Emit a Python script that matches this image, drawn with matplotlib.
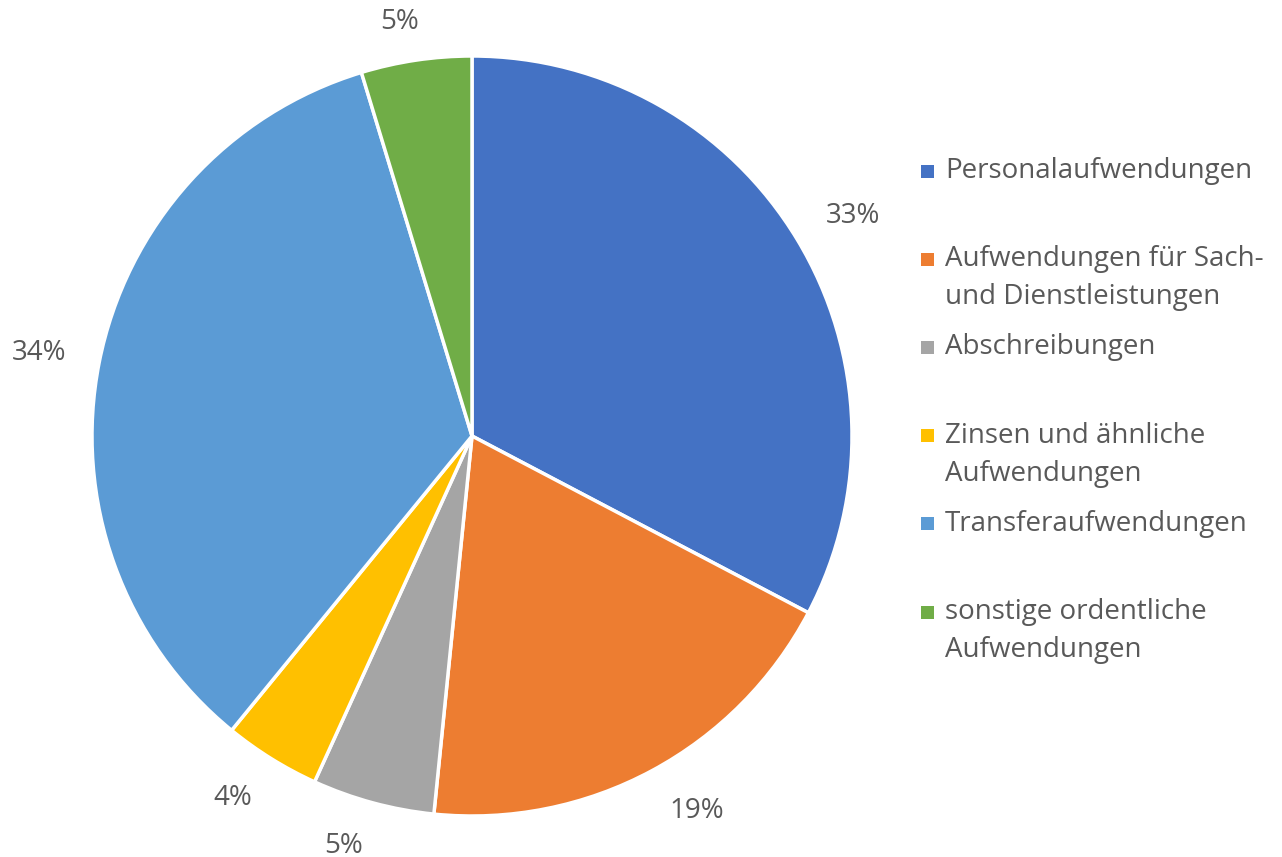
import matplotlib
matplotlib.use("Agg")
import matplotlib.pyplot as plt
import numpy as np
from matplotlib.patches import Rectangle
from matplotlib.transforms import offset_copy

categories = ["Personalaufwendungen",
              "Aufwendungen für Sach-\nund Dienstleistungen",
              "Abschreibungen",
              "Zinsen und ähnliche\nAufwendungen",
              "Transferaufwendungen",
              "sonstige ordentliche\nAufwendungen"]
values = [32.7, 18.9, 5.2, 4.1, 34.4, 4.7]
pct_labels = ["33%", "19%", "5%", "4%", "34%", "5%"]
colors = ["#4472C4", "#ED7D31", "#A5A5A5", "#FFC000", "#5B9BD5", "#70AD47"]

plt.rcParams['font.family'] = ['Open Sans', 'DejaVu Sans']
TXT = "#595959"
W, H = 1282, 857
fig = plt.figure(figsize=(W/100, H/100), dpi=100)

cx, cy, r = 472, 436, 380
ax = fig.add_axes([(cx - r)/W, (H - cy - r)/H, 2*r/W, 2*r/H])
wedges, texts = ax.pie(values, colors=colors, startangle=90, counterclock=False,
                       labels=pct_labels, labeldistance=1.08,
                       wedgeprops=dict(edgecolor="white", linewidth=2.5),
                       textprops=dict(color=TXT, fontsize=20))
ax.set_xlim(-1, 1); ax.set_ylim(-1, 1)
ax.set_aspect("equal")
ax.axis("off")

# outside-end label placement: box touches a ring slightly outside the pie
renderer = fig.canvas.get_renderer()
ring = 410 / r
for w, t in zip(wedges, texts):
    ang = np.deg2rad((w.theta1 + w.theta2) / 2)
    dx, dy = np.cos(ang), np.sin(ang)
    t.set_ha("center"); t.set_va("baseline")
    tw = t.get_window_extent(renderer).width
    ox = (tw/2 + 3) * np.clip(3.6*dx, -1, 1)
    oy = 11 * np.clip(3*dy, -1, 1) - 10
    t.set_position((ring*dx, ring*dy))
    t.set_transform(offset_copy(ax.transData, fig=fig, x=ox, y=oy, units='dots'))

# legend
y0, dy_leg, lh = 171, 88.2, 38
for i, (lab, c) in enumerate(zip(categories, colors)):
    y = y0 + dy_leg*i
    fig.patches.append(Rectangle((921/W, (H - y - 6.5)/H), 13/W, 13/H,
                                 transform=fig.transFigure, facecolor=c, edgecolor="none"))
    for j, line in enumerate(lab.split("\n")):
        fig.text(945/W, (H - y - j*lh)/H, line, fontsize=20, color=TXT,
                 ha="left", va="center")

fig.savefig("out.png", dpi=100)
